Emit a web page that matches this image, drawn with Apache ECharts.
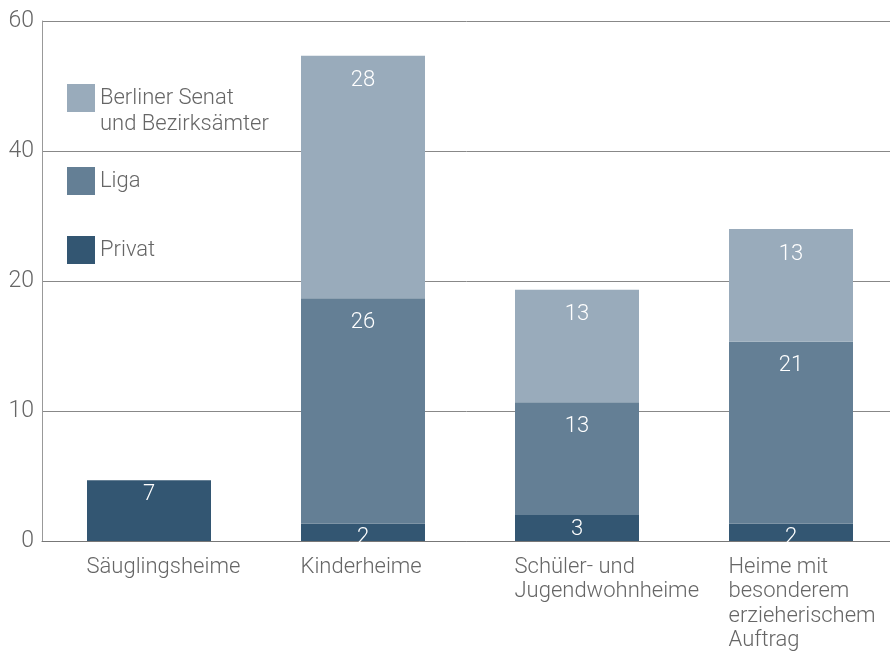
<!DOCTYPE html>
<html>
<head>
<meta charset="utf-8">
<script src="https://cdn.jsdelivr.net/npm/echarts@6/dist/echarts.min.js"></script>
<style>
  html, body { margin: 0; padding: 0; background: #fff; }
  #chart { width: 890px; height: 660px; }
</style>
</head>
<body>
<div id="chart"></div>
<script>
const categories = [
  "Säuglingsheime",
  "Kinderheime",
  "Schüler- und\nJugendwohnheime",
  "Heime mit\nbesonderem\nerzieherischem\nAuftrag",
];
const privat = [7, 2, 3, 2];
const liga = [null, 26, 13, 21];
const senat = [null, 28, 13, 13];
// the printed axis labels (the scale itself runs 0..60 in steps of 15)
const yTickLabels = ["0", "10", "20", "40", "60"];

const FONT = "Roboto";
const colors = {
  senat: "#99abbb",
  liga: "#647f95",
  privat: "#335672",
};

const chart = echarts.init(document.getElementById("chart"));

const barLabel = (dist) => ({
  show: true,
  position: "insideTop",
  distance: dist,
  color: "#fff",
  fontFamily: FONT,
  fontWeight: 300,
  fontSize: 22,
});

const legendText = {
  color: "#666",
  fontFamily: FONT,
  fontWeight: 300,
  fontSize: 22,
  lineHeight: 26,
};

const legendBase = {
  left: 62,
  itemWidth: 28,
  itemHeight: 28,
  itemGap: 11,
  icon: "rect",
  selectedMode: false,
  textStyle: legendText,
};

const option = {
  animation: false,
  // plot runs a little past the right edge, like the original
  grid: { left: 42, right: -8, top: 21, bottom: 119, outerBoundsMode: "none" },
  legend: [
    Object.assign({}, legendBase, {
      top: 54,
      data: ["Berliner Senat\nund Bezirksämter"],
      // blank first line so "Berliner Senat" sits level with the square
      formatter: (name) => " \n" + name,
    }),
    Object.assign({}, legendBase, { top: 162, data: ["Liga"] }),
    Object.assign({}, legendBase, { top: 231, data: ["Privat"] }),
  ],
  xAxis: {
    type: "category",
    data: categories,
    axisLine: { show: true, lineStyle: { color: "#777", width: 1 } },
    axisTick: { show: false },
    axisLabel: {
      interval: 0,
      margin: 14,
      align: "center",
      formatter: (v) => v.split("\n").map((s) => "{a|" + s + "}").join("\n"),
      rich: {
        a: {
          width: 125,
          align: "left",
          color: "#666",
          fontFamily: FONT,
          fontWeight: 300,
          fontSize: 22,
          lineHeight: 24.5,
        },
      },
    },
  },
  yAxis: {
    type: "value",
    min: 0,
    max: 60,
    interval: 15,
    axisLine: { show: true, lineStyle: { color: "#999", width: 1 } },
    axisTick: { show: false },
    splitLine: { lineStyle: { color: "#888", width: 1 } },
    axisLabel: {
      margin: 8,
      color: "#666",
      fontFamily: FONT,
      fontWeight: 300,
      fontSize: 23,
      formatter: (v) => yTickLabels[Math.round(v / 15)],
    },
  },
  series: [
    {
      name: "Privat",
      type: "bar",
      stack: "a",
      barWidth: 124,
      data: privat,
      itemStyle: { color: colors.privat },
      label: barLabel(3),
    },
    {
      name: "Liga",
      type: "bar",
      stack: "a",
      data: liga,
      itemStyle: { color: colors.liga },
      label: barLabel(13),
    },
    {
      name: "Berliner Senat\nund Bezirksämter",
      type: "bar",
      stack: "a",
      data: senat,
      itemStyle: { color: colors.senat },
      label: barLabel(14),
    },
  ],
};

chart.setOption(option);
</script>
</body>
</html>
